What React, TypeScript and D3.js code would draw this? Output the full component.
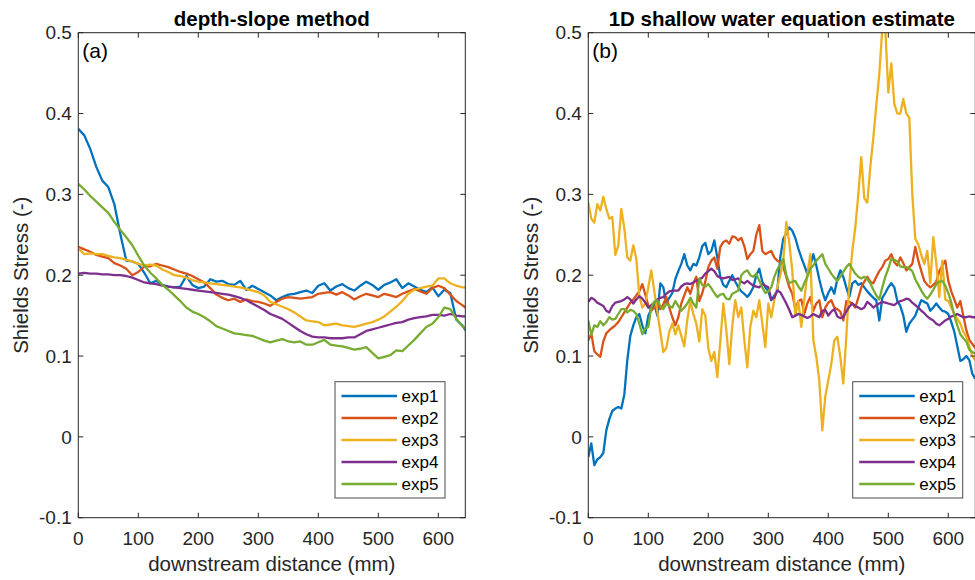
import React from "react";
import * as d3 from "d3";

// sample positions along the flume (mm)
const distLeft = [...d3.range(0, 650, 10), 645];
const distRight = d3.range(0, 650, 5);

const seriesNames = ["exp1", "exp2", "exp3", "exp4", "exp5"];
const seriesColors = ["#0072BD", "#D95319", "#EDB120", "#7E2F8E", "#77AC30"];
const xTicks = [0, 100, 200, 300, 400, 500, 600];
const yTicks = [-0.1, 0, 0.1, 0.2, 0.3, 0.4, 0.5];

// (a) depth-slope method, every 10 mm
const exp1Left = [
  0.381, 0.373, 0.356, 0.334, 0.317, 0.309, 0.288, 0.251, 0.218, 0.217,
  0.214, 0.203, 0.19, 0.193, 0.188, 0.186, 0.185, 0.186, 0.199, 0.188,
  0.184, 0.186, 0.195, 0.192, 0.193, 0.189, 0.188, 0.193, 0.182, 0.187,
  0.183, 0.179, 0.175, 0.169, 0.173, 0.176, 0.177, 0.179, 0.181, 0.178,
  0.187, 0.19, 0.181, 0.186, 0.189, 0.184, 0.181, 0.187, 0.192, 0.188,
  0.182, 0.188, 0.191, 0.195, 0.184, 0.19, 0.186, 0.182, 0.179, 0.185,
  0.174, 0.182, 0.178, 0.145, 0.138, 0.132,
];
const exp2Left = [
  0.235, 0.232, 0.229, 0.225, 0.223, 0.221, 0.215, 0.212, 0.208, 0.2,
  0.204, 0.211, 0.211, 0.214, 0.212, 0.21, 0.207, 0.204, 0.202, 0.199,
  0.195, 0.191, 0.184, 0.176, 0.172, 0.169, 0.171, 0.167, 0.17, 0.168,
  0.167, 0.165, 0.162, 0.167, 0.171, 0.173, 0.172, 0.171, 0.172, 0.173,
  0.177, 0.178, 0.179, 0.176, 0.179, 0.175, 0.17, 0.174, 0.177, 0.175,
  0.173, 0.177, 0.175, 0.173, 0.177, 0.18, 0.183, 0.18, 0.177, 0.184,
  0.187, 0.184, 0.176, 0.168, 0.163, 0.16,
];
const exp3Left = [
  0.233, 0.226, 0.227, 0.226, 0.226, 0.224, 0.222, 0.221, 0.219, 0.217,
  0.214, 0.212, 0.213, 0.212, 0.207, 0.204, 0.2, 0.199, 0.197, 0.194,
  0.192, 0.191, 0.19, 0.189, 0.188, 0.187, 0.186, 0.185, 0.183, 0.181,
  0.179, 0.175, 0.167, 0.164, 0.161, 0.158, 0.154, 0.149, 0.144, 0.143,
  0.142, 0.138, 0.139, 0.14, 0.138, 0.137, 0.136, 0.138, 0.14, 0.142,
  0.145, 0.149, 0.155, 0.161, 0.168, 0.177, 0.182, 0.184, 0.186, 0.187,
  0.196, 0.196, 0.19, 0.187, 0.185, 0.185,
];
const exp4Left = [
  0.202, 0.203, 0.202, 0.202, 0.201, 0.201, 0.2, 0.2, 0.199, 0.197,
  0.194, 0.191, 0.19, 0.189, 0.187, 0.186, 0.185, 0.184, 0.183, 0.182,
  0.181, 0.18, 0.179, 0.178, 0.177, 0.176, 0.174, 0.172, 0.169, 0.165,
  0.161, 0.157, 0.152, 0.149, 0.146, 0.141, 0.136, 0.131, 0.127, 0.124,
  0.123, 0.123, 0.122, 0.122, 0.122, 0.123, 0.123, 0.127, 0.131, 0.133,
  0.135, 0.137, 0.139, 0.141, 0.142, 0.145, 0.147, 0.148, 0.149, 0.151,
  0.151, 0.15, 0.152, 0.15, 0.149, 0.149,
];
const exp5Left = [
  0.313, 0.306, 0.298, 0.291, 0.284, 0.277, 0.266, 0.256, 0.247, 0.237,
  0.224, 0.212, 0.203, 0.196, 0.188, 0.182, 0.175, 0.168, 0.16, 0.155,
  0.152, 0.148, 0.143, 0.137, 0.134, 0.131, 0.128, 0.127, 0.126, 0.125,
  0.122, 0.119, 0.117, 0.119, 0.121, 0.118, 0.117, 0.118, 0.114, 0.114,
  0.117, 0.12, 0.114, 0.113, 0.112, 0.11, 0.108, 0.109, 0.111, 0.104,
  0.097, 0.099, 0.101, 0.107, 0.106, 0.113, 0.12, 0.128, 0.136, 0.14,
  0.148, 0.16, 0.158, 0.146, 0.137, 0.134,
];

// (b) 1D shallow water equation estimate, every 5 mm
const exp1Right = [
  -0.025, -0.008, -0.035, -0.028, -0.025, -0.02, 0.008, 0.022, 0.032, 0.035,
  0.037, 0.035, 0.052, 0.095, 0.125, 0.138, 0.148, 0.152, 0.138, 0.128,
  0.15, 0.158, 0.165, 0.15, 0.19, 0.185, 0.165, 0.172, 0.178, 0.195,
  0.205, 0.214, 0.226, 0.212, 0.206, 0.214, 0.212, 0.222, 0.236, 0.24,
  0.226, 0.23, 0.243, 0.222, 0.198, 0.188, 0.185, 0.193, 0.2, 0.192,
  0.185, 0.18, 0.177, 0.173, 0.178, 0.185, 0.2, 0.208, 0.192, 0.185,
  0.18, 0.169, 0.175, 0.181, 0.222, 0.245, 0.252, 0.259, 0.255, 0.246,
  0.233, 0.222, 0.212, 0.202, 0.212, 0.226, 0.212, 0.195, 0.18, 0.169,
  0.178, 0.185, 0.177, 0.195, 0.206, 0.198, 0.185, 0.173, 0.19, 0.193,
  0.188, 0.19, 0.185, 0.18, 0.176, 0.172, 0.169, 0.144, 0.172, 0.178,
  0.185, 0.19, 0.185, 0.168, 0.162, 0.15, 0.13, 0.14, 0.145, 0.15,
  0.16, 0.169, 0.167, 0.165, 0.156, 0.16, 0.165, 0.16, 0.156, 0.155,
  0.152, 0.142, 0.13, 0.112, 0.094, 0.096, 0.1, 0.095, 0.078, 0.072,
];
const exp2Right = [
  0.119, 0.128, 0.106, 0.102, 0.099, 0.118, 0.128, 0.132, 0.135, 0.138,
  0.142, 0.148, 0.154, 0.16, 0.166, 0.17, 0.175, 0.18, 0.189, 0.176,
  0.162, 0.156, 0.16, 0.165, 0.158, 0.164, 0.173, 0.16, 0.148, 0.138,
  0.148, 0.165, 0.175, 0.185, 0.177, 0.19, 0.198, 0.168, 0.178, 0.192,
  0.21, 0.218, 0.222, 0.208, 0.235, 0.241, 0.243, 0.239, 0.248, 0.247,
  0.243, 0.246, 0.236, 0.22, 0.226, 0.23, 0.25, 0.262, 0.23, 0.226,
  0.228, 0.23, 0.222, 0.218, 0.216, 0.21, 0.198, 0.185, 0.177, 0.158,
  0.168, 0.17, 0.152, 0.165, 0.173, 0.156, 0.165, 0.169, 0.148, 0.16,
  0.166, 0.169, 0.16, 0.158, 0.155, 0.144, 0.168, 0.167, 0.165, 0.16,
  0.172, 0.185, 0.192, 0.198, 0.192, 0.19, 0.198, 0.205, 0.21, 0.218,
  0.22, 0.226, 0.216, 0.212, 0.222, 0.215, 0.206, 0.21, 0.214, 0.235,
  0.218, 0.205, 0.193, 0.188, 0.185, 0.188, 0.192, 0.205, 0.212, 0.218,
  0.193, 0.18, 0.17, 0.16, 0.168, 0.15, 0.132, 0.12, 0.115, 0.11,
];
const exp3Right = [
  0.29, 0.27, 0.265, 0.288, 0.28, 0.297, 0.282, 0.27, 0.272, 0.225,
  0.237, 0.282, 0.258, 0.222, 0.218, 0.237, 0.22, 0.175, 0.16, 0.165,
  0.185, 0.206, 0.18, 0.155, 0.13, 0.105, 0.11, 0.13, 0.14, 0.127,
  0.138, 0.125, 0.112, 0.145, 0.168, 0.152, 0.14, 0.118, 0.158, 0.15,
  0.11, 0.094, 0.105, 0.074, 0.118, 0.165, 0.132, 0.09, 0.138, 0.169,
  0.148, 0.16, 0.12, 0.086, 0.136, 0.156, 0.148, 0.169, 0.14, 0.111,
  0.165, 0.148, 0.17, 0.185, 0.2, 0.218, 0.266, 0.24, 0.205, 0.15,
  0.168, 0.136, 0.17, 0.2, 0.226, 0.12, 0.099, 0.07, 0.008, 0.05,
  0.07, 0.09, 0.119, 0.124, 0.099, 0.066, 0.124, 0.189, 0.23, 0.259,
  0.3, 0.346, 0.295, 0.29, 0.334, 0.37, 0.41, 0.449, 0.505, 0.505,
  0.426, 0.462, 0.412, 0.4, 0.4, 0.418, 0.4, 0.395, 0.3, 0.245,
  0.238, 0.225, 0.214, 0.23, 0.19, 0.247, 0.215, 0.173, 0.218, 0.17,
  0.168, 0.16, 0.152, 0.146, 0.14, 0.13, 0.124, 0.112, 0.1, 0.095,
];
const exp4Right = [
  0.167, 0.172, 0.17, 0.166, 0.164, 0.162, 0.156, 0.154, 0.162, 0.166,
  0.167, 0.168, 0.17, 0.173, 0.17, 0.165, 0.17, 0.174, 0.171, 0.166,
  0.16, 0.163, 0.166, 0.17, 0.172, 0.173, 0.177, 0.18, 0.181, 0.181,
  0.181, 0.186, 0.189, 0.19, 0.189, 0.191, 0.193, 0.195, 0.197, 0.202,
  0.205, 0.208, 0.205, 0.199, 0.197, 0.196, 0.197, 0.198, 0.194, 0.195,
  0.196, 0.192, 0.19, 0.193, 0.19, 0.187, 0.186, 0.185, 0.189, 0.187,
  0.185, 0.17, 0.172, 0.181, 0.179, 0.172, 0.165, 0.157, 0.148, 0.15,
  0.152, 0.151, 0.149, 0.147, 0.149, 0.152, 0.15, 0.148, 0.156, 0.157,
  0.15, 0.155, 0.158, 0.149, 0.147, 0.148, 0.155, 0.161, 0.165, 0.162,
  0.16, 0.158, 0.16, 0.167, 0.164, 0.16, 0.163, 0.165, 0.167, 0.166,
  0.165, 0.164, 0.163, 0.166, 0.168, 0.169, 0.171, 0.17, 0.166, 0.163,
  0.16, 0.156, 0.153, 0.149, 0.146, 0.144, 0.14, 0.138, 0.141, 0.144,
  0.146, 0.149, 0.15, 0.152, 0.15, 0.148, 0.148, 0.149, 0.148, 0.148,
];
const exp5Right = [
  0.144, 0.126, 0.138, 0.136, 0.143, 0.138, 0.142, 0.148, 0.145, 0.146,
  0.152, 0.158, 0.158, 0.154, 0.157, 0.156, 0.152, 0.14, 0.127, 0.134,
  0.136, 0.16, 0.167, 0.169, 0.162, 0.158, 0.165, 0.162, 0.16, 0.168,
  0.162, 0.156, 0.16, 0.165, 0.172, 0.165, 0.16, 0.196, 0.188, 0.186,
  0.189, 0.184, 0.178, 0.173, 0.176, 0.177, 0.171, 0.17, 0.177, 0.179,
  0.181, 0.2, 0.204, 0.206, 0.2, 0.198, 0.202, 0.193, 0.185, 0.178,
  0.18, 0.185, 0.198, 0.207, 0.214, 0.22, 0.2, 0.19, 0.192, 0.193,
  0.186, 0.181, 0.19, 0.198, 0.208, 0.212, 0.218, 0.222, 0.226, 0.214,
  0.208, 0.202, 0.197, 0.193, 0.198, 0.204, 0.21, 0.214, 0.208, 0.202,
  0.198, 0.196, 0.198, 0.195, 0.19, 0.182, 0.175, 0.17, 0.185, 0.198,
  0.208, 0.22, 0.219, 0.217, 0.211, 0.21, 0.21, 0.208, 0.205, 0.195,
  0.188, 0.181, 0.175, 0.171, 0.176, 0.182, 0.189, 0.192, 0.193, 0.187,
  0.178, 0.166, 0.15, 0.138, 0.127, 0.122, 0.118, 0.108, 0.105, 0.103,
];

const FONT = "'Liberation Sans', Arial, Helvetica, sans-serif";
const AXIS_COLOR = "#262626";
const TOP = 32.7;
const BOTTOM = 517.7;
const TICK = 5;

type PanelProps = {
  id: string;
  left: number;
  title: string;
  tag: string;
  dist: number[];
  series: number[][];
  legendX: number;
};

const Panel = ({ id, left, title, tag, dist, series, legendX }: PanelProps) => {
  const x = d3.scaleLinear().domain([0, 645]).range([left, left + 387]);
  const y = d3.scaleLinear().domain([-0.1, 0.5]).range([BOTTOM, TOP]);
  const [x0, x1] = x.range();
  const midX = (x0 + x1) / 2;
  const midY = (TOP + BOTTOM) / 2;

  const line = d3
    .line<number>()
    .x((_, i) => x(dist[i]))
    .y((d) => y(d));

  const legendTop = 381.7;
  const rowGap = 22;

  return (
    <g>
      <defs>
        <clipPath id={id}>
          <rect x={x0} y={TOP} width={x1 - x0} height={BOTTOM - TOP} />
        </clipPath>
      </defs>

      <g clipPath={`url(#${id})`}>
        {series.map((vals, i) => (
          <path
            key={seriesNames[i]}
            d={line(vals) ?? ""}
            fill="none"
            stroke={seriesColors[i]}
            strokeWidth={2.3}
            strokeLinejoin="round"
          />
        ))}
      </g>

      {/* box */}
      <rect
        x={x0}
        y={TOP}
        width={x1 - x0}
        height={BOTTOM - TOP}
        fill="none"
        stroke={AXIS_COLOR}
        strokeWidth={1}
      />

      {xTicks.map((t) => (
        <g key={"x" + t}>
          <line x1={x(t)} x2={x(t)} y1={BOTTOM} y2={BOTTOM - TICK} stroke={AXIS_COLOR} />
          <line x1={x(t)} x2={x(t)} y1={TOP} y2={TOP + TICK} stroke={AXIS_COLOR} />
          <text
            x={x(t)}
            y={545}
            textAnchor="middle"
            fontSize={19}
            fill={AXIS_COLOR}
          >
            {t}
          </text>
        </g>
      ))}

      {yTicks.map((t) => (
        <g key={"y" + t}>
          <line x1={x0} x2={x0 + TICK} y1={y(t)} y2={y(t)} stroke={AXIS_COLOR} />
          <line x1={x1} x2={x1 - TICK} y1={y(t)} y2={y(t)} stroke={AXIS_COLOR} />
          <text
            x={x0 - 6.5}
            y={y(t)}
            dy="0.35em"
            textAnchor="end"
            fontSize={19}
            fill={AXIS_COLOR}
          >
            {String(t)}
          </text>
        </g>
      ))}

      <text x={midX} y={26} textAnchor="middle" fontSize={20.5} fontWeight="bold" fill="#000">
        {title}
      </text>
      <text x={midX} y={571} textAnchor="middle" fontSize={20.5} fill={AXIS_COLOR}>
        downstream distance (mm)
      </text>
      <text
        transform={`translate(${x0 - 50.5},${midY}) rotate(-90)`}
        textAnchor="middle"
        fontSize={20.5}
        fill={AXIS_COLOR}
      >
        Shields Stress (-)
      </text>
      <text x={x0 + 4} y={57.5} fontSize={21} fill="#000">
        {tag}
      </text>

      {/* legend */}
      <rect
        x={legendX}
        y={legendTop}
        width={110}
        height={116.3}
        fill="#fff"
        stroke="#4a4a4a"
        strokeWidth={1}
      />
      {seriesNames.map((name, i) => {
        const ly = legendTop + 14.3 + i * rowGap;
        return (
          <g key={name}>
            <line
              x1={legendX + 6.5}
              x2={legendX + 62}
              y1={ly}
              y2={ly}
              stroke={seriesColors[i]}
              strokeWidth={2.5}
            />
            <text x={legendX + 66.5} y={ly} dy="0.35em" fontSize={17} fill="#000">
              {name}
            </text>
          </g>
        );
      })}
    </g>
  );
};

export default function App() {
  return (
    <svg
      width={975}
      height={580}
      style={{ position: "absolute", left: 0, top: 0, background: "#fff" }}
      fontFamily={FONT}
    >
      <rect width={975} height={580} fill="#fff" />
      <Panel
        id="clipA"
        left={78.3}
        title="depth-slope method"
        tag="(a)"
        dist={distLeft}
        series={[exp1Left, exp2Left, exp3Left, exp4Left, exp5Left]}
        legendX={335}
      />
      <Panel
        id="clipB"
        left={588.3}
        title="1D shallow water equation estimate"
        tag="(b)"
        dist={distRight}
        series={[exp1Right, exp2Right, exp3Right, exp4Right, exp5Right]}
        legendX={852.7}
      />
    </svg>
  );
}
